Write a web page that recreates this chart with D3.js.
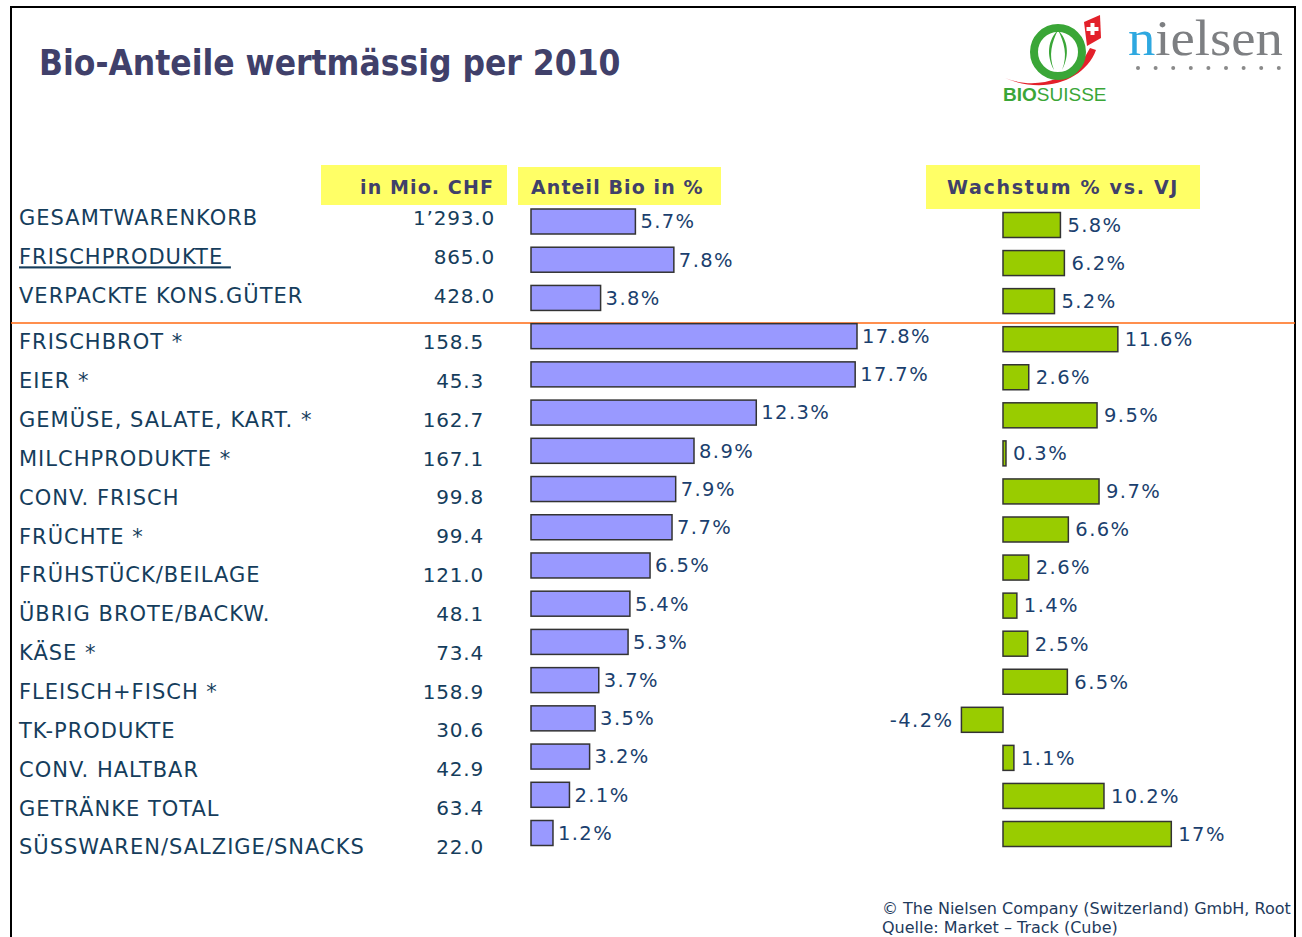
<!DOCTYPE html>
<html><head><meta charset="utf-8">
<script src="https://cdn.jsdelivr.net/npm/d3@7"></script>
<style>html,body{margin:0;padding:0;background:#fff;overflow:hidden}</style>
</head><body>
<script>
// ---------- DATA ----------
const topCategories = ["GESAMTWARENKORB", "FRISCHPRODUKTE ", "VERPACKTE KONS.GÜTER"];
const subCategories = ["FRISCHBROT *", "EIER *", "GEMÜSE, SALATE, KART. *", "MILCHPRODUKTE *", "CONV. FRISCH",
  "FRÜCHTE *", "FRÜHSTÜCK/BEILAGE", "ÜBRIG BROTE/BACKW.", "KÄSE *", "FLEISCH+FISCH *", "TK-PRODUKTE",
  "CONV. HALTBAR", "GETRÄNKE TOTAL", "SÜSSWAREN/SALZIGE/SNACKS"];
const categories = topCategories.concat(subCategories);
const valuesCHF = [1293.0, 865.0, 428.0, 158.5, 45.3, 162.7, 167.1, 99.8, 99.4, 121.0, 48.1, 73.4, 158.9, 30.6, 42.9, 63.4, 22.0];
const bioShare = [5.7, 7.8, 3.8, 17.8, 17.7, 12.3, 8.9, 7.9, 7.7, 6.5, 5.4, 5.3, 3.7, 3.5, 3.2, 2.1, 1.2];
const growth = [5.8, 6.2, 5.2, 11.6, 2.6, 9.5, 0.3, 9.7, 6.6, 2.6, 1.4, 2.5, 6.5, -4.2, 1.1, 10.2, 17];
const growthLabels = ["5.8%", "6.2%", "5.2%", "11.6%", "2.6%", "9.5%", "0.3%", "9.7%", "6.6%", "2.6%", "1.4%", "2.5%", "6.5%", "-4.2%", "1.1%", "10.2%", "17%"];
const headers = ["in Mio. CHF", "Anteil Bio in %", "Wachstum % vs. VJ"];
const title = "Bio-Anteile wertmässig per 2010";
const footer = ["© The Nielsen Company (Switzerland) GmbH, Root", "Quelle: Market – Track (Cube)"];

// ---------- DRAW ----------
const W = 1302, H = 937;
const svg = d3.select("body").append("svg").attr("width", W).attr("height", H);
const FONT = "'DejaVu Sans', Verdana, sans-serif";
const textCol = "#153d5c", valCol = "#1b3f6e", headCol = "#40406a";

// frame
svg.append("rect").attr("x", 11).attr("y", 7).attr("width", 1284).attr("height", 960)
  .attr("fill", "none").attr("stroke", "#000").attr("stroke-width", 2);

// title
svg.append("text").attr("x", 39).attr("y", 75).text(title)
  .attr("font-family", "'DejaVu Sans Condensed', 'DejaVu Sans', sans-serif").attr("font-weight", "bold")
  .attr("font-size", 35).attr("fill", headCol);

// logos: BioSuisse
const logo = svg.append("g");
logo.append("path").attr("d", "M1005,78 C1030,88 1060,84 1082,62 L1090,48 L1096,50 C1085,80 1045,95 1005,78 Z").attr("fill", "#e3202a");
logo.append("path").attr("d", "M1084,22 L1100,15 L1101,38 L1087,46 Z").attr("fill", "#e3202a");
logo.append("path").attr("d", "M1090.5,24 h4 v4 h4 v4 h-4 v4 h-4 v-4 h-4 v-4 h4 Z").attr("fill", "#fff").attr("transform","translate(0,-1)");
logo.append("ellipse").attr("cx", 1058).attr("cy", 52).attr("rx", 24).attr("ry", 24)
  .attr("fill", "none").attr("stroke", "#3aa637").attr("stroke-width", 8);
logo.append("path").attr("d", "M1058,30 C1048,40 1046,55 1054,70 C1048,55 1052,42 1058,30 Z").attr("fill", "#3aa637");
logo.append("path").attr("d", "M1058,30 C1068,40 1070,55 1062,70 C1068,55 1064,42 1058,30 Z").attr("fill", "#3aa637");
const bs = logo.append("text").attr("x", 1003).attr("y", 101).attr("font-family", "'Liberation Sans', Arial, sans-serif")
  .attr("font-size", 19).attr("fill", "#3aa637");
bs.append("tspan").attr("font-weight", "bold").text("BIO");
bs.append("tspan").text("SUISSE");
// nielsen
const nl = svg.append("text").attr("x", 1128).attr("y", 55).attr("font-family", "'Liberation Serif', 'DejaVu Serif', serif")
  .attr("font-size", 50).attr("textLength", 155).attr("lengthAdjust", "spacingAndGlyphs");
nl.append("tspan").attr("fill", "#2ea8e0").text("n");
nl.append("tspan").attr("fill", "#7d7f82").text("ielsen");
svg.append("g").selectAll("circle").data(d3.range(9)).join("circle")
  .attr("cx", d => 1138 + d * 17.6).attr("cy", 68).attr("r", 2).attr("fill", "#8a8a8a");

// header boxes
const hdr = [
  {x: 321, y: 165, w: 186, h: 40, tx: 494, anchor: "end"},
  {x: 518, y: 167, w: 203, h: 38, tx: 531, anchor: "start"},
  {x: 926, y: 165, w: 274, h: 44, tx: 947, anchor: "start"}
];
hdr.forEach((h, i) => {
  svg.append("rect").attr("x", h.x).attr("y", h.y).attr("width", h.w).attr("height", h.h).attr("fill", "#ffff66");
  svg.append("text").attr("x", h.tx).attr("y", 187).attr("dy", "0.35em").attr("text-anchor", h.anchor)
    .attr("font-family", "'DejaVu Sans', sans-serif").attr("font-weight", "bold").attr("font-size", 19)
    .attr("letter-spacing", i === 2 ? 1.7 : 1.1)
    .attr("fill", headCol).text(headers[i]);
});

// orange separator
svg.append("line").attr("x1", 11).attr("x2", 1295).attr("y1", 323).attr("y2", 323)
  .attr("stroke", "#ff6a13").attr("stroke-width", 1.5);

// scales
const yTop = d3.scalePoint().domain(topCategories).range([218, 296]);
const ySub = d3.scalePoint().domain(subCategories).range([342, 847]);
const yLabel = c => topCategories.includes(c) ? yTop(c) : ySub(c);
const yBlue = d3.scalePoint().domain(categories).range([221.5, 833]);
const yGreen = d3.scalePoint().domain(categories).range([225, 834]);
const xBlue = d3.scaleLinear().domain([0, 17.8]).range([531, 857]);
const xGreen = d3.scaleLinear().domain([0, 10]).range([1003, 1102]);
const barH = 25;

const rows = categories.map((c, i) => ({c, chf: valuesCHF[i], share: bioShare[i], g: growth[i], gl: growthLabels[i], top: i < 3}));

// category labels
const lab = svg.append("g").attr("font-family", FONT).attr("fill", textCol);
lab.selectAll("text.cat").data(rows).join("text").attr("class", "cat")
  .attr("x", 19).attr("y", d => yLabel(d.c)).attr("dy", "0.35em")
  .attr("font-size", 21).attr("letter-spacing", 1.0)
  .attr("text-decoration", (d, i) => i === 1 ? "underline" : null)
  .style("white-space", "pre").text(d => d.c);
const fmtCHF = v => v >= 1000 ? d3.format(",.1f")(v).replace(",", "’") : d3.format(".1f")(v);
lab.selectAll("text.chf").data(rows).join("text").attr("class", "chf")
  .attr("x", d => d.top ? 495 : 484).attr("y", d => yLabel(d.c)).attr("dy", "0.35em").attr("text-anchor", "end")
  .attr("font-size", 20).attr("letter-spacing", 0.8)
  .text(d => fmtCHF(d.chf));

// blue bars
svg.append("g").selectAll("rect").data(rows).join("rect")
  .attr("x", xBlue(0)).attr("y", d => yBlue(d.c) - barH / 2)
  .attr("width", d => xBlue(d.share) - xBlue(0)).attr("height", barH)
  .attr("fill", "#9999ff").attr("stroke", "#333").attr("stroke-width", 1.5);
svg.append("g").attr("font-family", FONT).attr("font-size", 19.5).attr("fill", valCol).attr("letter-spacing", 1.4)
  .selectAll("text").data(rows).join("text")
  .attr("x", d => xBlue(d.share) + 5).attr("y", d => yBlue(d.c)).attr("dy", "0.35em")
  .text(d => d3.format(".1f")(d.share) + "%");

// green bars
svg.append("g").selectAll("rect").data(rows).join("rect")
  .attr("x", d => xGreen(Math.min(0, d.g))).attr("y", d => yGreen(d.c) - barH / 2)
  .attr("width", d => Math.abs(xGreen(d.g) - xGreen(0))).attr("height", barH)
  .attr("fill", "#99cc00").attr("stroke", "#333").attr("stroke-width", 1.5);
svg.append("g").attr("font-family", FONT).attr("font-size", 19.5).attr("fill", valCol).attr("letter-spacing", 1.4)
  .selectAll("text").data(rows).join("text")
  .attr("x", d => d.g < 0 ? xGreen(d.g) - 8 : xGreen(d.g) + 7).attr("y", d => yGreen(d.c)).attr("dy", "0.35em")
  .attr("text-anchor", d => d.g < 0 ? "end" : "start")
  .text(d => d.gl);

// footer
svg.append("g").attr("font-family", FONT).attr("font-size", 16).attr("fill", "#1e3a5c")
  .selectAll("text").data(footer).join("text")
  .attr("x", 882).attr("y", (d, i) => 908 + i * 19).attr("dy", "0.35em").text(d => d);
</script>
</body></html>
